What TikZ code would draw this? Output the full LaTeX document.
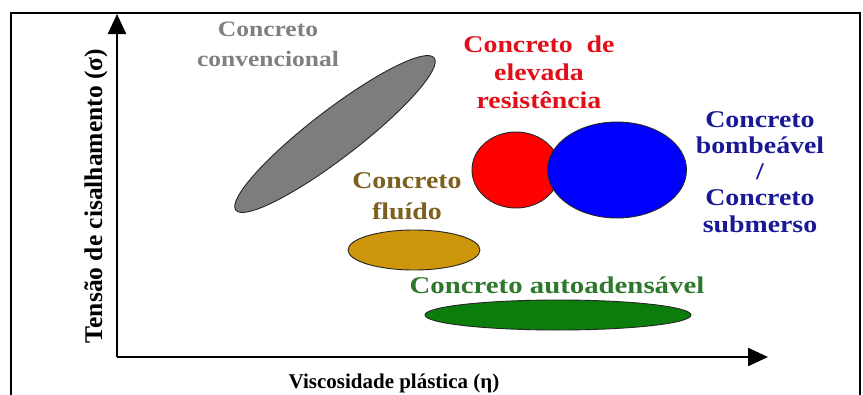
\documentclass[tikz,border=0pt]{standalone}
\usepackage{fontspec}
\setmainfont{Liberation Serif}
\usetikzlibrary{shapes.geometric,arrows.meta}
\definecolor{grayfill}{RGB}{125,125,125}
\definecolor{graytext}{RGB}{128,128,128}
\definecolor{redfill}{RGB}{255,0,0}
\definecolor{redtext}{RGB}{225,15,25}
\definecolor{bluefill}{RGB}{0,0,255}
\definecolor{bluetext}{RGB}{25,25,150}
\definecolor{goldfill}{RGB}{205,150,10}
\definecolor{goldtext}{RGB}{125,95,30}
\definecolor{greenfill}{RGB}{10,125,10}
\definecolor{greentext}{RGB}{45,120,45}
\tikzset{
  blob/.style={ellipse, draw=black!85, line width=0.9pt, inner sep=0pt, outer sep=0pt},
  axisline/.style={line width=2.4pt, -{Triangle[length=20pt,width=18pt]}},
  lbl/.style={font=\bfseries\fontsize{24}{26}\selectfont, align=center, inner sep=0pt, anchor=base},
  axislbl/.style={font=\bfseries\fontsize{24}{26}\selectfont, inner sep=0pt, anchor=base}
}
\begin{document}
\begin{tikzpicture}[x=1pt,y=-1pt]
\useasboundingbox (0,0) rectangle (863,394);
\clip (0,0) rectangle (863,394);
\fill[white] (0,0) rectangle (863,394);
% frame
\draw[line width=1.8pt] (11,13) rectangle (860,420);
% axes
\coordinate (O) at (117,357);
\coordinate (ytip) at (117,14);
\coordinate (xtip) at (768,357);
\draw[axisline] (O) -- (ytip);
\draw[axisline] (O) -- (xtip);
% blobs
\node[blob, fill=grayfill, minimum width=250pt, minimum height=48pt, rotate=37.5] (conv) at (335,134) {};
\node[blob, fill=redfill, minimum width=88pt, minimum height=76pt] (alta) at (516,170) {};
\node[blob, fill=bluefill, minimum width=139pt, minimum height=96pt] (bomb) at (617,170) {};
\node[blob, fill=goldfill, minimum width=132pt, minimum height=40pt] (flui) at (414,250) {};
\node[blob, fill=greenfill, minimum width=266pt, minimum height=30pt] (auto) at (558,315) {};
% labels (anchor base = baseline of last line)
\node[lbl, text=graytext, xscale=1.16, font=\bfseries\fontsize{22}{30}\selectfont] (tconv) at (268,66) {Concreto\\convencional};
\node[lbl, text=redtext, xscale=1.16, font=\bfseries\fontsize{24}{28}\selectfont] (talta) at (539,108) {Concreto\ \ de\\elevada\\resistência};
\node[lbl, text=bluetext, xscale=1.16, font=\bfseries\fontsize{24}{26.2}\selectfont] (tbomb) at (760,232) {Concreto\\bombeável\\/\\Concreto\\submerso};
\node[lbl, text=goldtext, xscale=1.16, font=\bfseries\fontsize{24}{31}\selectfont] (tflui) at (407,219) {Concreto\\fluído};
\node[lbl, text=greentext, xscale=1.2] (tauto) at (557,293) {Concreto\ autoadensável};
\node[axislbl, font=\bfseries\fontsize{21}{24}\selectfont] (xl) at (394,388) {Viscosidade plástica (η)};
\node[axislbl, rotate=90, font=\bfseries\fontsize{25.5}{28}\selectfont] (yl) at (102,196) {Tensão de cisalhamento (σ)};
\end{tikzpicture}
\end{document}
